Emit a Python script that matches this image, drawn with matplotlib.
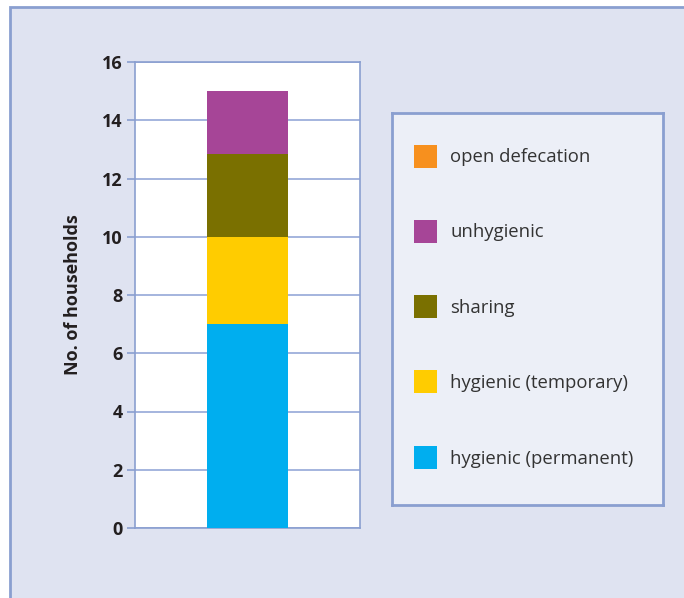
import matplotlib
matplotlib.use("Agg")
import matplotlib.pyplot as plt
from matplotlib.patches import Rectangle

# stacked categories, bottom to top
categories = ["hygienic (permanent)", "hygienic (temporary)", "sharing",
              "unhygienic", "open defecation"]
households = [7, 3, 2.85, 2.15, 0]
colors = ["#00aeef", "#ffcc00", "#7a7000", "#a64597", "#f7901e"]
yticks = [0, 2, 4, 6, 8, 10, 12, 14, 16]

frame_col = "#8a9fd0"
panel_col = "#dfe3f1"
text_col = "#231f20"

plt.rcParams["font.family"] = ["Open Sans", "DejaVu Sans"]

W, H = 684, 598
fig = plt.figure(figsize=(W / 100, H / 100), dpi=100)
fig.patch.set_facecolor("white")

# shaded panel behind everything, running off the right and bottom edges
fig.patches.append(Rectangle((10 / W, -0.05), 1.1, 1 - 7 / H + 0.05,
                             transform=fig.transFigure, facecolor=panel_col,
                             edgecolor=frame_col, linewidth=2, zorder=-5))

ax = fig.add_axes([135 / W, 1 - 528 / H, 225 / W, 466 / H])
ax.set_facecolor("white")
bottom = 0
for cat, val, col in zip(categories, households, colors):
    ax.bar(0, val, width=0.356, bottom=bottom, color=col, label=cat, zorder=3)
    bottom += val

ax.set_xlim(-0.5, 0.5)
ax.set_ylim(0, 16)
ax.set_yticks(yticks)
ax.set_yticklabels([str(t) for t in yticks], fontweight="bold", fontsize=13,
                   color=text_col)
ax.set_xticks([])
ax.tick_params(axis="y", length=6, width=1.2, color=frame_col, pad=3)
ax.grid(axis="y", color="#95a8d8", linewidth=1.2, zorder=1)
for sp in ax.spines.values():
    sp.set_color(frame_col)
    sp.set_linewidth(1.2)
ax.set_ylabel("No. of households", fontweight="bold", fontsize=13,
              color=text_col, labelpad=14)

# legend box, entries listed top to bottom
lax = fig.add_axes([392 / W, 1 - 505 / H, 271 / W, 392 / H])
lax.set_facecolor("#eceff7")
lax.set_xlim(392, 663)
lax.set_ylim(505, 113)
lax.set_xticks([])
lax.set_yticks([])
for sp in lax.spines.values():
    sp.set_color(frame_col)
    sp.set_linewidth(2)

rows = [156, 231, 307, 382, 458]
for y, cat, col in zip(rows, categories[::-1], colors[::-1]):
    lax.add_patch(Rectangle((414, y - 11.5), 23, 23, facecolor=col,
                            edgecolor="none"))
    lax.text(450, y + 1, cat, fontsize=13.3, color="#333333", va="center",
             ha="left")

fig.savefig("out.png", dpi=100)
